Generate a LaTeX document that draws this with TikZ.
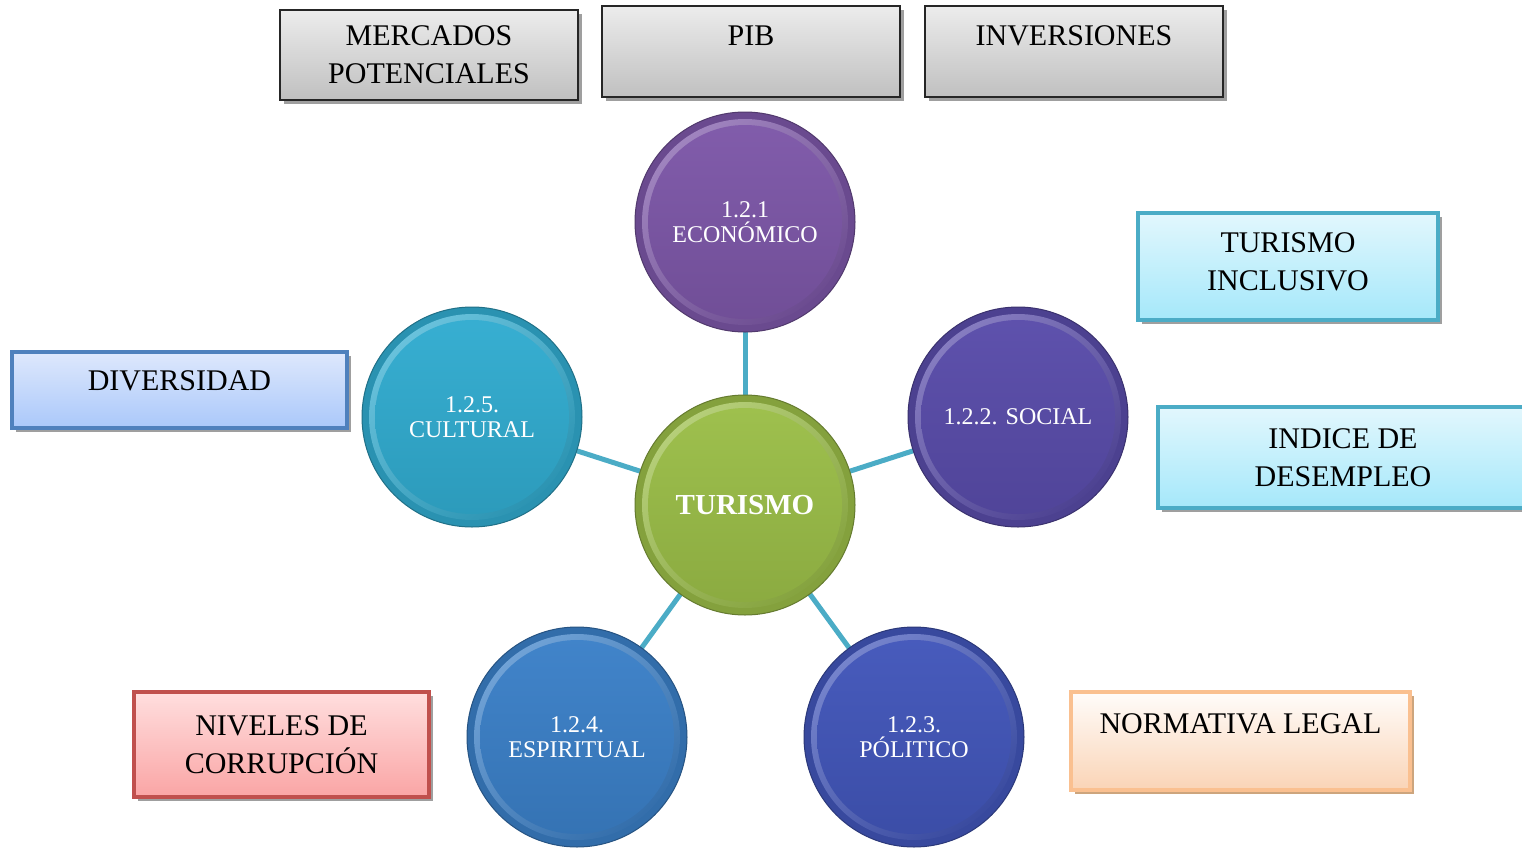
\documentclass[tikz,border=0pt]{standalone}
\usepackage{fontspec}
\setmainfont{Liberation Serif}
\usetikzlibrary{shadows,backgrounds}
\definecolor{econ}{RGB}{125,87,168}
\definecolor{soc}{RGB}{89,76,170}
\definecolor{cult}{RGB}{49,172,208}
\definecolor{espi}{RGB}{59,128,200}
\definecolor{poli}{RGB}{66,86,186}
\definecolor{tur}{RGB}{155,190,72}
\definecolor{conn}{RGB}{75,172,198}
\definecolor{cyb}{RGB}{75,172,198}
\definecolor{cyt}{RGB}{226,247,253}
\definecolor{cyd}{RGB}{165,232,250}
\definecolor{blb}{RGB}{79,129,189}
\definecolor{blt}{RGB}{222,232,252}
\definecolor{bld}{RGB}{170,200,250}
\definecolor{rdb}{RGB}{192,80,77}
\definecolor{rdt}{RGB}{255,222,222}
\definecolor{rdd}{RGB}{250,165,165}
\definecolor{orb}{RGB}{250,192,144}
\definecolor{ort}{RGB}{255,252,250}
\definecolor{ord}{RGB}{250,212,182}
\definecolor{grt}{RGB}{236,236,236}
\definecolor{grd}{RGB}{192,192,192}
\tikzset{
  bub/.style={circle, minimum size=110pt, inner sep=0pt, draw=#1!65!black,
    line width=0.5pt, fill=#1!85!black, text=white, align=center,
    font=\fontsize{12}{12.5}\selectfont,
    path picture={
      \shade[top color=#1!72!white, bottom color=#1!85!black, shading angle=40]
        (path picture bounding box.center) circle (51.5pt);
      \shade[top color=#1!97!white, bottom color=#1!90!black]
        (path picture bounding box.center) circle (48.5pt);
    }},
  bx/.style n args={4}{draw=#1, line width=#2, top color=#3, bottom color=#4,
    align=center, font=\fontsize{15}{19}\selectfont, inner sep=2pt,
    drop shadow={shadow xshift=2pt, shadow yshift=-2pt, fill=gray!75, opacity=1}},
  connline/.style={draw=conn, line width=2.5pt},
}
\begin{document}
\begin{tikzpicture}[x=0.5pt,y=-0.5pt]
\useasboundingbox (0,0) rectangle (1522,847);
% circles
\node[bub=econ] (econ) at (745,222) {1.2.1\\ECONÓMICO};
\node[bub=tur, font=\fontsize{14.5}{16}\selectfont\bfseries] (tur) at (745,505) {TURISMO};
\node[bub=soc] (soc) at (1018,417) {1.2.2. SOCIAL};
\node[bub=cult] (cult) at (472,417) {1.2.5.\\CULTURAL};
\node[bub=espi] (espi) at (577,737) {1.2.4.\\ESPIRITUAL};
\node[bub=poli] (poli) at (914,737) {1.2.3.\\PÓLITICO};
% boxes
\node[bx={black!85}{1pt}{grt}{grd}, minimum width=149pt, minimum height=45pt] (merc) at (429,55) {MERCADOS\\POTENCIALES};
\node[bx={black!85}{1pt}{grt}{grd}, minimum width=149pt, minimum height=45.5pt, text depth=15.5pt] (pib) at (751,51.5) {PIB};
\node[bx={black!85}{1pt}{grt}{grd}, minimum width=149pt, minimum height=45.5pt, text depth=15.5pt] (inv) at (1074,51.5) {INVERSIONES};
\node[bx={cyb}{2pt}{cyt}{cyd}, minimum width=150pt, minimum height=53.5pt] (ti) at (1288,266.5) {TURISMO\\INCLUSIVO\\[-14pt]~};
\node[bx={cyb}{2pt}{cyt}{cyd}, minimum width=185pt, minimum height=50.5pt] (ide) at (1343,457.5) {INDICE DE\\DESEMPLEO};
\node[bx={blb}{2pt}{blt}{bld}, minimum width=167.5pt, minimum height=38pt, text depth=9pt] (div) at (179.5,390) {DIVERSIDAD};
\node[bx={rdb}{2pt}{rdt}{rdd}, minimum width=147.5pt, minimum height=52.5pt] (niv) at (281.5,744.5) {NIVELES DE\\CORRUPCIÓN};
\node[bx={orb}{2pt}{ort}{ord}, minimum width=169.5pt, minimum height=49pt, text depth=17pt,
  drop shadow={shadow xshift=2pt, shadow yshift=-2pt, fill={rgb,255:red,205;green,165;blue,125}, opacity=1}] (nor) at (1240.5,741) {NORMATIVA LEGAL};
% connectors
\begin{scope}[on background layer]
\fill[white] (0,0) rectangle (1522,847);
\draw[connline] (tur.center) -- (econ.center);
\draw[connline] (tur.center) -- (soc.center);
\draw[connline] (tur.center) -- (cult.center);
\draw[connline] (tur.center) -- (espi.center);
\draw[connline] (tur.center) -- (poli.center);
\end{scope}
\end{tikzpicture}
\end{document}
